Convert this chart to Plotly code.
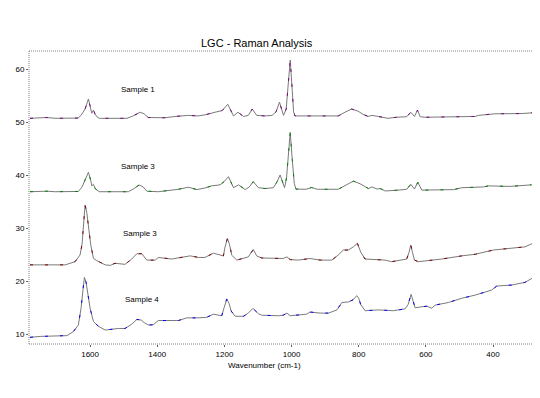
import plotly.graph_objects as go

# ---------------- data ----------------
s1_wn = [1779, 1729, 1704, 1636, 1627, 1615, 1605, 1598, 1595, 1590, 1585, 1579, 1573, 1490, 1472, 1451, 1439, 1427,
         1377, 1347, 1308, 1278, 1258, 1228, 1207, 1190, 1183, 1173, 1160, 1143, 1129, 1117, 1104, 1079, 1058, 1046,
         1036, 1030, 1024, 1016, 1010, 1004, 998, 994, 990, 861, 841, 821, 802, 787, 772, 761, 742, 727, 713, 687,
         657, 645, 634, 625, 617, 602, 453, 444, 394, 314, 280]
s1_val = [50.75, 50.9, 50.75, 50.8, 51.3, 52.5, 54.4, 52.5, 51.7, 52.3, 51.5, 51.0, 50.75, 50.75, 51.2, 51.9, 51.6, 50.9,
          50.85, 51.1, 51.3, 51.2, 51.4, 51.9, 52.2, 53.4, 52.5, 51.2, 51.9, 51.1, 51.3, 52.5, 51.3, 51.2, 51.3, 52.0,
          53.8, 52.5, 51.3, 52.5, 58.0, 61.75, 56.0, 52.0, 51.2, 51.2, 51.9, 52.5, 52.1, 51.5, 51.1, 51.3, 51.1, 50.9,
          50.75, 50.95, 51.05, 51.9, 51.1, 52.3, 51.05, 50.95, 51.1, 51.3, 51.6, 51.65, 51.8]

s2_wn = [1779, 1729, 1704, 1635, 1624, 1615, 1605, 1598, 1595, 1590, 1585, 1573, 1486, 1469, 1454, 1442, 1431, 1397,
         1337, 1307, 1282, 1258, 1238, 1213, 1201, 1188, 1180, 1173, 1158, 1138, 1126, 1114, 1099, 1079, 1054, 1043,
         1034, 1028, 1021, 1015, 1010, 1004, 998, 992, 987, 957, 940, 924, 861, 841, 816, 796, 771, 761, 745, 736,
         721, 682, 657, 645, 634, 624, 612, 517, 493, 429, 414, 349, 285]
s2_val = [36.9, 37.0, 36.9, 36.95, 37.8, 39.0, 40.57, 39.0, 38.0, 38.3, 37.5, 36.9, 36.9, 37.5, 38.17, 37.8, 37.0, 36.9,
          37.36, 37.75, 37.3, 37.6, 38.0, 38.2, 38.8, 39.74, 38.7, 37.66, 38.2, 37.3, 37.8, 38.8, 37.66, 37.5, 37.66, 38.8,
          40.06, 38.8, 37.66, 39.5, 44.0, 48.1, 43.0, 38.5, 37.4, 37.36, 37.7, 37.36, 37.36, 38.0, 38.9, 38.4, 37.5, 37.8,
          37.4, 37.5, 37.04, 37.2, 37.36, 38.3, 37.4, 38.7, 37.2, 37.3, 37.66, 37.8, 38.0, 37.9, 38.2]

s3_wn = [1779, 1674, 1645, 1630, 1624, 1618, 1615, 1610, 1605, 1598, 1590, 1580, 1555, 1540, 1526, 1496, 1476, 1461,
         1446, 1431, 1406, 1397, 1357, 1327, 1302, 1277, 1258, 1233, 1219, 1203, 1198, 1191, 1185, 1178, 1163, 1143,
         1129, 1114, 1104, 1089, 1044, 1025, 1014, 1004, 980, 945, 915, 880, 861, 846, 831, 816, 804, 794, 781, 721,
         702, 668, 657, 650, 645, 640, 634, 622, 582, 553, 493, 453, 399, 354, 305, 280]
s3_val = [23.1, 23.1, 23.7, 24.96, 27.0, 32.0, 34.4, 33.0, 30.0, 26.85, 24.3, 23.9, 23.1, 23.0, 23.4, 23.2, 24.2, 25.2,
          25.2, 24.0, 24.0, 24.5, 24.2, 24.5, 24.8, 24.5, 24.5, 25.3, 25.1, 24.8, 26.5, 28.1, 27.0, 24.9, 24.0, 24.3,
          24.6, 26.0, 24.8, 24.4, 24.3, 24.3, 24.6, 24.1, 24.0, 24.3, 24.0, 24.0, 24.96, 25.9, 25.9, 26.5, 27.17, 25.5,
          24.2, 24.0, 23.7, 24.0, 24.2, 25.5, 26.85, 25.5, 24.0, 23.7, 24.0, 24.2, 24.8, 25.1, 25.9, 26.2, 26.5, 27.2]

s4_wn = [1779, 1749, 1669, 1650, 1635, 1627, 1621, 1617, 1612, 1607, 1600, 1590, 1575, 1555, 1516, 1496, 1476, 1461,
         1448, 1439, 1426, 1412, 1397, 1337, 1312, 1277, 1253, 1233, 1208, 1201, 1193, 1186, 1180, 1168, 1143, 1129,
         1115, 1099, 1089, 1039, 1025, 1014, 1004, 955, 945, 915, 890, 865, 850, 831, 817, 806, 800, 794, 781, 741,
         697, 662, 653, 644, 638, 632, 612, 597, 582, 573, 533, 493, 453, 404, 389, 344, 305, 280]
s4_val = [9.43, 9.6, 9.75, 10.5, 11.75, 14.9, 18.5, 20.75, 19.8, 18.0, 14.9, 12.4, 11.5, 10.8, 11.1, 11.1, 11.9, 12.8,
          12.7, 12.2, 11.75, 11.8, 12.6, 12.6, 13.1, 13.1, 13.2, 13.8, 13.5, 15.0, 16.67, 15.8, 14.4, 13.4, 13.4, 14.0,
          14.9, 13.9, 13.6, 13.5, 13.6, 14.0, 13.5, 13.8, 14.2, 14.0, 14.0, 14.6, 16.0, 16.1, 16.5, 17.3, 16.8, 15.6,
          14.45, 14.6, 14.45, 14.8, 15.6, 17.55, 16.2, 15.0, 15.2, 15.3, 14.9, 15.5, 16.0, 16.8, 17.4, 18.35, 19.1, 19.3,
          19.8, 20.7]

series_wn = [s1_wn, s2_wn, s3_wn, s4_wn]
series_val = [s1_val, s2_val, s3_val, s4_val]
series_colors = ["#800080", "#008000", "#800000", "#0000ff"]
labels = ["Sample 1", "Sample 3", "Sample 3", "Sample 4"]
label_wn = [1457, 1456, 1450, 1445]
label_y = [56.1, 41.75, 29.1, 16.5]

x_ticks = [1600, 1400, 1200, 1000, 800, 600, 400]
y_ticks = [10, 20, 30, 40, 50, 60]

FONT = "Liberation Sans, Arial, sans-serif"

# ---------------- figure ----------------
fig = go.Figure()
for wn, val, col in zip(series_wn, series_val, series_colors):
    fig.add_trace(go.Scatter(x=wn, y=val, mode="lines",
                             line=dict(color="#7a7a7a", width=1), hoverinfo="skip"))
    fig.add_trace(go.Scatter(x=wn, y=val, mode="lines",
                             line=dict(color=col, width=1, dash="3px,12px"), hoverinfo="skip"))

for t, xw, yv in zip(labels, label_wn, label_y):
    fig.add_annotation(x=xw, y=yv, text=t, showarrow=False,
                       font=dict(size=8, color="#000000", family=FONT))

# plot area in page pixels: x 29..535, y 51..344 (page has an 8px body margin)
PW, PH = 506, 293
fig.add_annotation(xref="paper", yref="paper", x=(257 - 29) / PW, y=1 + (51 - 43) / PH,
                   xanchor="center", yanchor="middle",
                   text="LGC - Raman Analysis", showarrow=False,
                   font=dict(size=11, color="#000000", family=FONT))
fig.add_annotation(xref="paper", yref="paper", x=(264 - 29) / PW, y=-(365 - 344) / PH,
                   xanchor="center", yanchor="middle",
                   text="Wavenumber (cm-1)", showarrow=False,
                   font=dict(size=8, color="#000000", family=FONT))

# frame (fine dotted on three sides, solid on the right)
DOT = dict(color="#808080", width=1, dash="1px,1px")
fig.add_shape(type="line", xref="paper", yref="paper", x0=0, x1=1, y0=1, y1=1, line=DOT)
fig.add_shape(type="line", xref="paper", yref="paper", x0=0, x1=1, y0=0, y1=0, line=DOT)
fig.add_shape(type="line", xref="paper", yref="paper", x0=0, x1=0, y0=0, y1=1, line=DOT)
fig.add_shape(type="line", xref="paper", yref="paper", x0=1, x1=1, y0=0, y1=1,
              line=dict(color="#808080", width=1))

fig.update_layout(
    width=532, height=390,
    margin=dict(l=21, r=5, t=43, b=54, autoexpand=False),
    paper_bgcolor="white", plot_bgcolor="white",
    showlegend=False,
    font=dict(family=FONT, size=8, color="#000000"),
    xaxis=dict(range=[1782, 275], tickvals=x_ticks, ticktext=[str(v) for v in x_ticks],
               showgrid=False, zeroline=False, showline=False, automargin=False,
               ticks="outside", ticklen=2, tickcolor="#606060", tickfont=dict(size=8)),
    yaxis=dict(range=[8.17, 63.45], tickvals=y_ticks, ticktext=[str(v) for v in y_ticks],
               showgrid=False, zeroline=False, showline=False, automargin=False,
               ticks="outside", ticklen=2, tickcolor="#606060", tickfont=dict(size=8)),
)

fig.write_html("out.html")
